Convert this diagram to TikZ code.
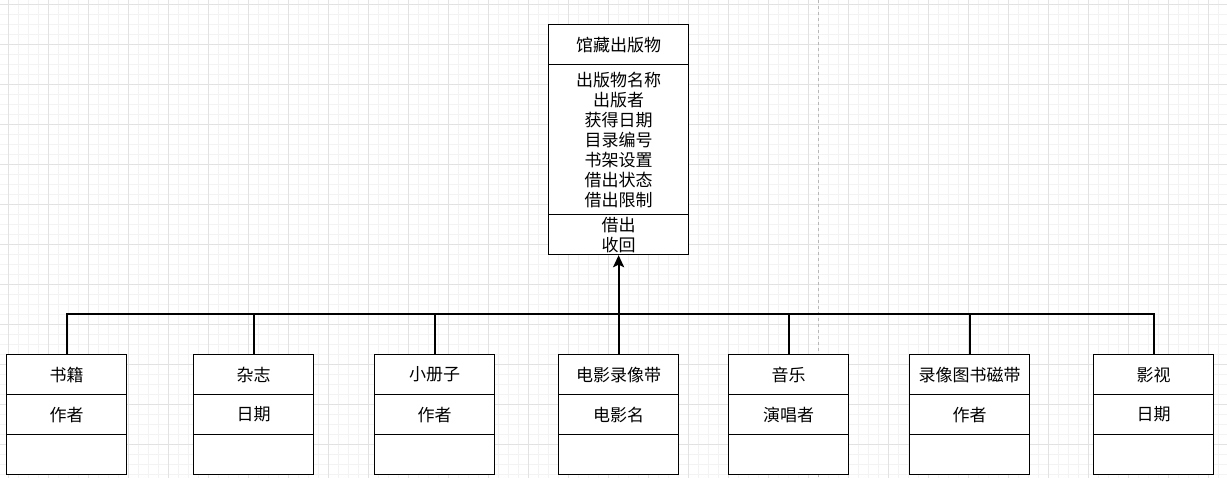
\documentclass[tikz,border=0pt]{standalone}
\usepackage{fontspec}
\newfontfamily\cjk{Noto Sans CJK SC}
\usetikzlibrary{arrows.meta}
\definecolor{gridminor}{HTML}{F3F3F3}
\definecolor{gridmajor}{HTML}{E2E2E2}
\definecolor{pagebreak}{HTML}{B8B8B8}
\tikzset{
  cell/.style={draw=black, line width=1.2pt, fill=white, minimum width=120pt, minimum height=40pt,
    inner sep=0pt, align=center, font=\cjk\fontsize{17}{20}\selectfont, anchor=north west},
  bigcell/.style={cell, minimum width=140pt},
  conn/.style={draw=black, line width=2pt},
}
\newcommand{\classbox}[4]{%
  \node[cell] (#1-t) at (#2,354) {#3};
  \node[cell] (#1-a) at (#2,394) {#4};
  \node[cell] (#1-m) at (#2,434) {};
}
\begin{document}
\begin{tikzpicture}[x=1pt,y=-1pt]
\useasboundingbox (0,0) rectangle (1227,478);
\fill[white] (0,0) rectangle (1227,478);
% grid
\foreach \gx in {8,18,...,1227} \draw[gridminor, line width=0.8pt] (\gx,0) -- (\gx,478);
\foreach \gy in {4,14,...,478} \draw[gridminor, line width=0.8pt] (0,\gy) -- (1227,\gy);
\foreach \gx in {8,48,...,1227} \draw[gridmajor, line width=0.8pt] (\gx,0) -- (\gx,478);
\foreach \gy in {4,44,...,478} \draw[gridmajor, line width=0.8pt] (0,\gy) -- (1227,\gy);
\draw[pagebreak, line width=1pt, dash pattern=on 3pt off 3pt] (818,0) -- (818,478);
% top class
\node[bigcell] (pub-t) at (548,24) {馆藏出版物};
\node[bigcell, minimum height=150pt] (pub-a) at (548,64) {出版物名称\\出版者\\获得日期\\目录编号\\书架设置\\借出状态\\借出限制};
\node[bigcell] (pub-m) at (548,214) {借出\\收回};
% children
\classbox{book}{6}{书籍}{作者}
\classbox{mag}{193}{杂志}{日期}
\classbox{pam}{374}{小册子}{作者}
\classbox{film}{558}{电影录像带}{电影名}
\classbox{music}{728}{音乐}{演唱者}
\classbox{tape}{909}{录像图书磁带}{作者}
\classbox{video}{1093}{影视}{日期}
% connectors
\coordinate (bus) at (618,314);
\foreach \c in {book,mag,pam,music,tape,video} \draw[conn] (\c-t.north) |- (bus);
\draw[conn, -{Stealth[length=12pt, width=11pt, inset=2.5pt]}] (film-t.north) -- (pub-m.south);
\end{tikzpicture}
\end{document}
